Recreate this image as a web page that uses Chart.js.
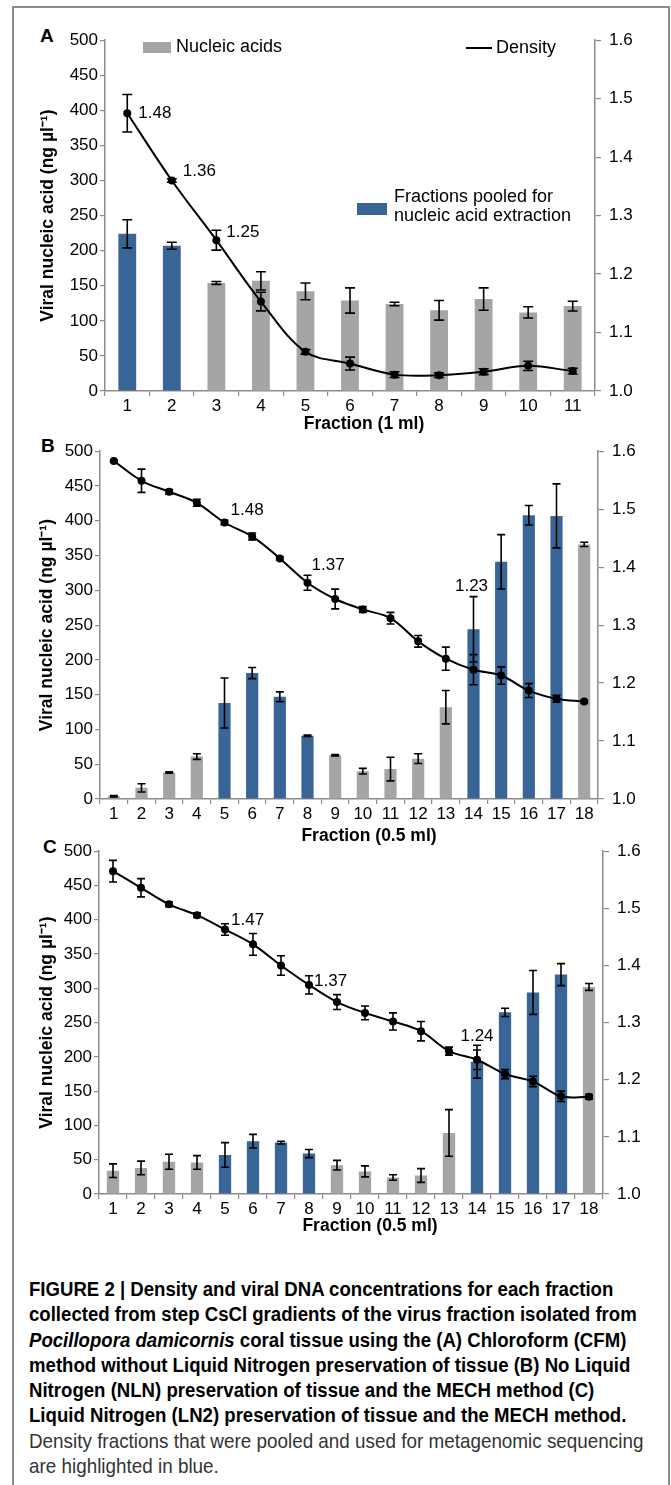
<!DOCTYPE html>
<html>
<head>
<meta charset="utf-8">
<title>Figure 2 - CsCl gradient fractions</title>
<script src="https://cdn.jsdelivr.net/npm/chart.js@4.4.1/dist/chart.umd.min.js"></script>
<style>
    html, body { margin: 0; padding: 0; background: #fff; }
    body { position: relative; width: 671px; height: 1485px; overflow: hidden; font-family: "Liberation Sans", Arial, sans-serif; color: #000; }
    .frame { position: absolute; left: 12px; top: 6px; width: 658px; height: 1540px; border: 2px solid #8c8c8c; box-sizing: border-box; }
    .panel { position: absolute; left: 0; }
    .letter { position: absolute; font-weight: bold; font-size: 19px; line-height: 20px; }
    .xtitle { position: absolute; font-weight: bold; font-size: 17.5px; line-height: 20px; white-space: nowrap; transform: translateX(-50%); }
    .legend { position: absolute; font-size: 18px; line-height: 19px; white-space: nowrap; }
    .swatch { position: absolute; }
    .caption { position: absolute; left: 29px; top: 1277px; font-size: 20px; line-height: 25.3px; white-space: nowrap; transform: scaleX(0.93); transform-origin: left top; }
    .caption .plain { color: #333; font-size: 20.3px; }
</style>
</head>
<body>
<div class="frame"></div>

<div class="letter" style="left:40px; top:26px;">A</div>
<div class="letter" style="left:41px; top:436px;">B</div>
<div class="letter" style="left:43px; top:837px;">C</div>

<canvas id="chartA" class="panel" width="671" height="397" style="top:22px;"></canvas>
<canvas id="chartB" class="panel" width="671" height="394" style="top:433px;"></canvas>
<canvas id="chartC" class="panel" width="671" height="389" style="top:833px;"></canvas>

<!-- legend of panel A -->
<div class="swatch" style="left:143px; top:42px; width:28px; height:11px; background:#a5a5a5;"></div>
<div class="legend" style="left:176px; top:37px;">Nucleic acids</div>
<div class="swatch" style="left:466px; top:47px; width:26px; height:2px; background:#000;"></div>
<div class="legend" style="left:496px; top:38px;">Density</div>
<div class="swatch" style="left:357px; top:203px; width:30px; height:12px; background:#386595;"></div>
<div class="legend" style="left:394px; top:187px;">Fractions pooled for<br>nucleic acid extraction</div>

<div class="xtitle" style="left:364px; top:413px;">Fraction (1 ml)</div>
<div class="xtitle" style="left:369px; top:825px;">Fraction (0.5 ml)</div>
<div class="xtitle" style="left:370px; top:1215px;">Fraction (0.5 ml)</div>

<div class="caption"><b>FIGURE 2 | Density and viral DNA concentrations for each fraction<br>
collected from step CsCl gradients of the virus fraction isolated from<br>
<i>Pocillopora damicornis</i> coral tissue using the (A) Chloroform (CFM)<br>
method without Liquid Nitrogen preservation of tissue (B) No Liquid<br>
Nitrogen (NLN) preservation of tissue and the MECH method (C)<br>
Liquid Nitrogen (LN2) preservation of tissue and the MECH method.</b><br>
<span class="plain">Density fractions that were pooled and used for metagenomic sequencing<br>
are highlighted in blue.</span></div>

<script>
// Panel A: chloroform method, 1 ml fractions
const fractionsA = ['1', '2', '3', '4', '5', '6', '7', '8', '9', '10', '11'];
const nucleicA = [224, 207, 154, 157, 142, 129, 124, 115, 131, 112, 121];
const nucleicErrA = [20, 5, 2, 13, 12, 18, 2.5, 14, 16, 8, 7];
const densityA = [1.475, 1.36, 1.258, 1.153, 1.067, 1.047, 1.028, 1.027, 1.033, 1.043, 1.034];
const densityErrA = [0.032, 0.003, 0.017, 0.016, 0.004, 0.011, 0.005, 0.004, 0.005, 0.008, 0.005];
const pooledA = [1, 2];
const labelIndexA = [0, 1, 2];
const labelTextA = ['1.48', '1.36', '1.25'];

// Panel B: no liquid nitrogen, MECH method, 0.5 ml fractions
const fractionsB = ['1', '2', '3', '4', '5', '6', '7', '8', '9', '10', '11', '12', '13', '14', '15', '16', '17', '18'];
const nucleicB = [4, 16, 38, 61, 138, 181, 147, 91, 63, 40, 43, 58, 132, 244, 341, 408, 407, 366];
const nucleicErrB = [1, 6, 1, 4, 36, 8, 7, 1, 1, 4, 17, 7, 24, 47, 39, 14, 46, 3];
const densityB = [1.583, 1.549, 1.530, 1.511, 1.477, 1.453, 1.415, 1.373, 1.345, 1.327, 1.312, 1.272, 1.242, 1.223, 1.213, 1.187, 1.173, 1.168];
const densityErrB = [0.002, 0.02, 0.004, 0.006, 0.004, 0.006, 0.003, 0.013, 0.017, 0.005, 0.01, 0.01, 0.02, 0.026, 0.015, 0.012, 0.006, 0.002];
const pooledB = [5, 6, 7, 8, 14, 15, 16, 17];
const labelIndexB = [4, 7, 13];
const labelTextB = ['1.48', '1.37', '1.23'];

// Panel C: liquid nitrogen, MECH method, 0.5 ml fractions
const fractionsC = ['1', '2', '3', '4', '5', '6', '7', '8', '9', '10', '11', '12', '13', '14', '15', '16', '17', '18'];
const nucleicC = [34, 38, 47, 46, 57, 77, 75, 59, 42, 33, 24, 27, 89, 193, 265, 294, 320, 302];
const nucleicErrC = [10, 10, 11, 10, 18, 10, 2, 6, 7, 8, 4, 10, 34, 24, 6, 32, 16, 5];
const densityC = [1.565, 1.536, 1.507, 1.488, 1.463, 1.437, 1.400, 1.366, 1.336, 1.317, 1.302, 1.285, 1.250, 1.235, 1.210, 1.197, 1.171, 1.170];
const densityErrC = [0.019, 0.016, 0.004, 0.004, 0.01, 0.019, 0.017, 0.016, 0.013, 0.012, 0.015, 0.017, 0.007, 0.017, 0.008, 0.009, 0.009, 0.004];
const pooledC = [5, 6, 7, 8, 14, 15, 16, 17];
const labelIndexC = [4, 7, 13];
const labelTextC = ['1.47', '1.37', '1.24'];

const BLUE = '#386595';
const GRAY = '#a5a5a5';
const AXIS = '#8c8c8c';
const PAD_TOP = 14;
const X_AXIS_H = 28;

Chart.defaults.font.family = '"Liberation Sans", Arial, sans-serif';
Chart.defaults.color = '#000';

// vertical error bars for every dataset that carries an "errors" array
const errorBars = {
    id: 'errorBars',
    afterDatasetsDraw(chart, args, opts) {
        const ctx = chart.ctx;
        ctx.save();
        ctx.strokeStyle = '#000';
        ctx.lineWidth = 1.6;
        chart.data.datasets.forEach((ds, i) => {
            if (!ds.errors) return;
            const meta = chart.getDatasetMeta(i);
            const scale = chart.scales[ds.yAxisID];
            meta.data.forEach((el, j) => {
                const v = ds.data[j];
                const e = ds.errors[j];
                const yHi = scale.getPixelForValue(v + e);
                const yLo = scale.getPixelForValue(v - e);
                const half = opts.cap / 2;
                ctx.beginPath();
                ctx.moveTo(el.x, yHi); ctx.lineTo(el.x, yLo);
                ctx.moveTo(el.x - half, yHi); ctx.lineTo(el.x + half, yHi);
                ctx.moveTo(el.x - half, yLo); ctx.lineTo(el.x + half, yLo);
                ctx.stroke();
            });
        });
        ctx.restore();
    }
};

// the density numbers written next to some points
const densityLabels = {
    id: 'densityLabels',
    afterDraw(chart, args, opts) {
        const ctx = chart.ctx;
        const meta = chart.getDatasetMeta(0);
        ctx.save();
        ctx.font = '17px "Liberation Sans", Arial, sans-serif';
        ctx.fillStyle = '#000';
        ctx.textBaseline = 'middle';
        opts.index.forEach((idx, k) => {
            const pt = meta.data[idx];
            const st = opts.style[k];
            ctx.textAlign = st.align;
            ctx.fillText(opts.text[k], pt.x + st.dx, pt.y + st.dy);
        });
        ctx.restore();
    }
};

function buildPanel(canvasId, p) {
    const colors = p.fractions.map(f => p.pooled.includes(Number(f)) ? BLUE : GRAY);
    return new Chart(document.getElementById(canvasId), {
        type: 'bar',
        data: {
            labels: p.fractions,
            datasets: [
                {
                    type: 'line',
                    label: 'Density',
                    data: p.density,
                    errors: p.densityErr,
                    yAxisID: 'y1',
                    borderColor: '#000',
                    borderWidth: 2,
                    pointRadius: 4,
                    pointBackgroundColor: '#000',
                    pointBorderWidth: 0,
                    tension: 0.35,
                    order: 0
                },
                {
                    type: 'bar',
                    label: 'Nucleic acids',
                    data: p.nucleic,
                    errors: p.nucleicErr,
                    yAxisID: 'y',
                    backgroundColor: colors,
                    categoryPercentage: 1,
                    barPercentage: p.barPct,
                    order: 1
                }
            ]
        },
        options: {
            responsive: false,
            animation: false,
            layout: { padding: { top: PAD_TOP, left: 0, right: 0, bottom: 0 } },
            plugins: {
                legend: { display: false },
                tooltip: { enabled: false },
                errorBars: { cap: p.cap },
                densityLabels: { index: p.labelIndex, text: p.labelText, style: p.labelStyle }
            },
            scales: {
                x: {
                    grid: { drawOnChartArea: false, offset: true, color: AXIS, tickLength: 5, lineWidth: 1.2 },
                    border: { color: AXIS, width: 1.5 },
                    ticks: { font: { size: 17 }, padding: 0, maxRotation: 0, autoSkip: false },
                    afterFit(s) { s.height = X_AXIS_H; }
                },
                y: {
                    position: 'left',
                    min: 0,
                    max: 500,
                    ticks: { stepSize: 50, font: { size: 17 }, padding: 2 },
                    grid: { drawOnChartArea: false, color: AXIS, tickLength: 5, lineWidth: 1.2 },
                    border: { color: AXIS, width: 1.5 },
                    title: {
                        display: true,
                        text: 'Viral nucleic acid (ng µl⁻¹)',
                        font: { size: 17.5, weight: 'bold' },
                        padding: { top: p.titlePad, bottom: 0 }
                    },
                    afterFit(s) { s.width = p.left; }
                },
                y1: {
                    position: 'right',
                    min: 1.0,
                    max: 1.6,
                    ticks: { stepSize: 0.1, font: { size: 17 }, padding: 8, callback: v => v.toFixed(1) },
                    grid: { drawOnChartArea: false, color: AXIS, tickLength: 6, lineWidth: 1.2 },
                    border: { color: AXIS, width: 1.5 },
                    afterFit(s) { s.width = 671 - p.right; }
                }
            }
        },
        plugins: [errorBars, densityLabels]
    });
}

buildPanel('chartA', {
    fractions: fractionsA, nucleic: nucleicA, nucleicErr: nucleicErrA,
    density: densityA, densityErr: densityErrA, pooled: pooledA,
    labelIndex: labelIndexA, labelText: labelTextA,
    labelStyle: [{ dx: 11, dy: 0, align: 'left' }, { dx: 11, dy: -9, align: 'left' }, { dx: 10, dy: -8, align: 'left' }],
    left: 105, right: 595, barPct: 0.40, cap: 10, titlePad: 38
});

buildPanel('chartB', {
    fractions: fractionsB, nucleic: nucleicB, nucleicErr: nucleicErrB,
    density: densityB, densityErr: densityErrB, pooled: pooledB,
    labelIndex: labelIndexB, labelText: labelTextB,
    labelStyle: [{ dx: 6, dy: -12, align: 'left' }, { dx: 4, dy: -17, align: 'left' }, { dx: -2, dy: -83, align: 'center' }],
    left: 100, right: 598, barPct: 0.44, cap: 8, titlePad: 37
});

buildPanel('chartC', {
    fractions: fractionsC, nucleic: nucleicC, nucleicErr: nucleicErrC,
    density: densityC, densityErr: densityErrC, pooled: pooledC,
    labelIndex: labelIndexC, labelText: labelTextC,
    labelStyle: [{ dx: 6, dy: -9, align: 'left' }, { dx: 5, dy: -4, align: 'left' }, { dx: 0, dy: -23, align: 'center' }],
    left: 99, right: 603, barPct: 0.44, cap: 8, titlePad: 37
});
</script>
</body>
</html>
